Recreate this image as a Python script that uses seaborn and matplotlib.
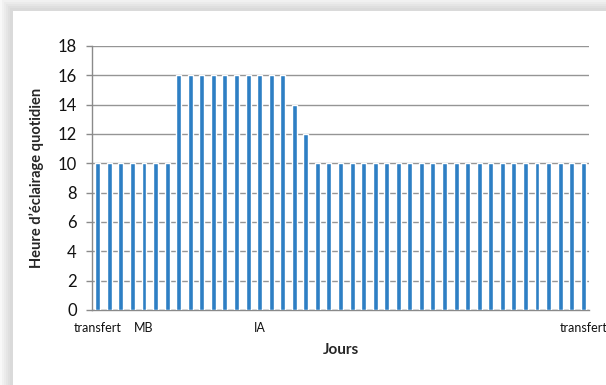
import matplotlib
matplotlib.use("Agg")
import matplotlib.pyplot as plt
import seaborn as sns
import pandas as pd
from matplotlib.patches import Rectangle

# Data
days = list(range(43))
hours = [10]*7 + [16]*10 + [14, 12] + [10]*24
label_pos = [0, 4, 14, 42]
label_txt = ["transfert", "MB", "IA", "transfert"]
yticks = [0, 2, 4, 6, 8, 10, 12, 14, 16, 18]

sns.set_theme(style="white")
plt.rcParams['font.family'] = ['Lato', 'DejaVu Sans']

fig = plt.figure(figsize=(6.06, 3.85), dpi=100)
fig.patch.set_facecolor('white')

# card shadow
W, H = 606, 385
for i in range(6):
    off = 13 - 2*i
    fig.patches.append(Rectangle(((off - 3) / W, 0), 1, (H - (11 - 2*i) + 3) / H,
                                 transform=fig.transFigure, facecolor='#808080',
                                 alpha=0.05, edgecolor='none', zorder=0))
fig.patches.append(Rectangle((13 / W, 0), 1, (H - 11) / H, transform=fig.transFigure,
                             facecolor='white', edgecolor='none', zorder=1))

ax = fig.add_axes([92 / W, 1 - 310 / H, (589 - 92) / W, (310 - 46) / H])
ax.set_zorder(2)
ax.patch.set_alpha(0)

df = pd.DataFrame({"day": days, "hours": hours})
sns.barplot(data=df, x="day", y="hours", color="#2E7FC4", width=0.43,
            saturation=1, ax=ax, zorder=3)

ax.set_xlim(-0.5, 42.5)
ax.set_ylim(0, 18)
ax.set_yticks(yticks)
ax.set_yticklabels([str(v) for v in yticks], fontsize=12, color='#111111')
ax.yaxis.grid(True, color='#959595', linewidth=1.0, zorder=0)
ax.set_axisbelow(True)

ax.set_xticks(label_pos)
ax.set_xticklabels(label_txt, fontsize=9, color='#111111')
ax.set_xticks([i - 0.5 for i in range(44)], minor=True)
ax.tick_params(axis='x', which='major', length=0, pad=9)
ax.tick_params(axis='x', which='minor', length=4, width=1, color='#8a8a8a', direction='out')
ax.tick_params(axis='y', which='major', length=4, width=1, color='#8a8a8a', direction='out', left=True, pad=7)

for s in ['top', 'right']:
    ax.spines[s].set_visible(False)
for s in ['left', 'bottom']:
    ax.spines[s].set_color('#8a8a8a')
    ax.spines[s].set_linewidth(1.0)

ax.set_xlabel("Jours", fontsize=11, fontweight='bold', labelpad=6)
ax.set_ylabel("Heure d\u2019\u00e9clairage quotidien", fontsize=10.5, fontweight='bold', labelpad=10)

fig.savefig("out.png", dpi=100)
